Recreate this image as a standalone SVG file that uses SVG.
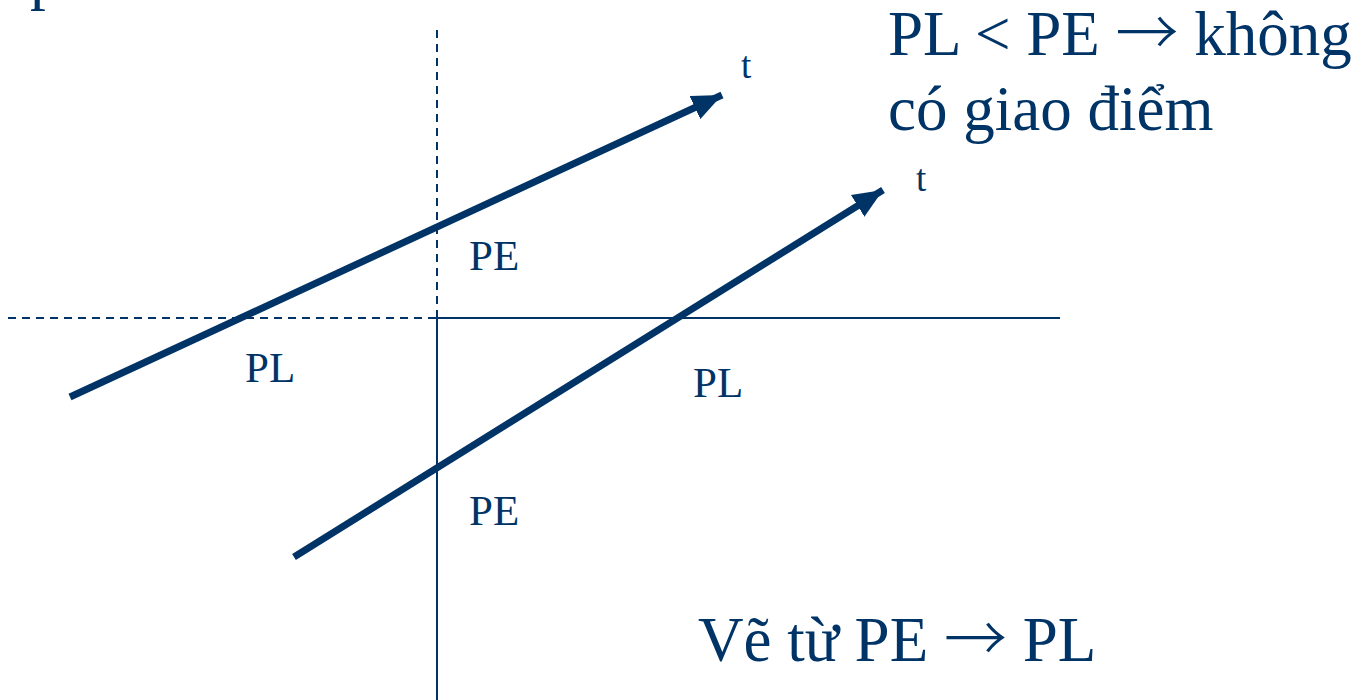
<svg xmlns="http://www.w3.org/2000/svg" width="1368" height="700" viewBox="0 0 1368 700">
<style>
text{font-family:"Liberation Serif","Times New Roman",serif;fill:#003366}
.arr{font-family:"Noto Sans CJK JP","Noto Sans CJK SC",sans-serif;font-weight:300}
.ax{stroke:#003366;stroke-width:2;fill:none}
.dash{stroke-dasharray:8 6}
.big{font-size:63px}
.lbl{font-size:43px}
.t{font-size:37px}
.thick{stroke:#003366;stroke-width:7;fill:none}
</style>
<defs>
<marker id="ah" markerUnits="userSpaceOnUse" markerWidth="32" markerHeight="26" refX="28" refY="12" orient="auto" viewBox="0 0 30 24">
<path d="M0,0 L28,12 L0,24 z" fill="#003366"/>
</marker>
</defs>
<rect width="1368" height="700" fill="#ffffff"/>
<text class="big" x="30" y="-3">p</text>
<g id="axes">
<line class="ax dash" x1="437" y1="30" x2="437" y2="318"/>
<line class="ax" x1="437" y1="318" x2="437" y2="700"/>
<line class="ax dash" x1="8" y1="318" x2="437" y2="318"/>
<line class="ax" x1="437" y1="318" x2="1060" y2="318"/>
</g>
<g id="connectors">
<line class="thick" x1="70" y1="397" x2="722" y2="95" marker-end="url(#ah)"/>
<line class="thick" x1="294" y1="557" x2="883" y2="190" marker-end="url(#ah)"/>
</g>
<g id="labels">
<text class="t" x="741" y="78">t</text>
<text class="t" x="916" y="191">t</text>
<text class="lbl" x="469" y="270">PE</text>
<text class="lbl" x="245" y="382">PL</text>
<text class="lbl" x="693" y="397">PL</text>
<text class="lbl" x="469" y="525">PE</text>
<text class="big" x="888" y="55">PL &lt; PE <tspan class="arr">→</tspan> không</text>
<text class="big" x="888" y="130">có giao điểm</text>
<text class="big" x="698" y="661">Vẽ từ PE <tspan class="arr">→</tspan> PL</text>
</g>
</svg>
